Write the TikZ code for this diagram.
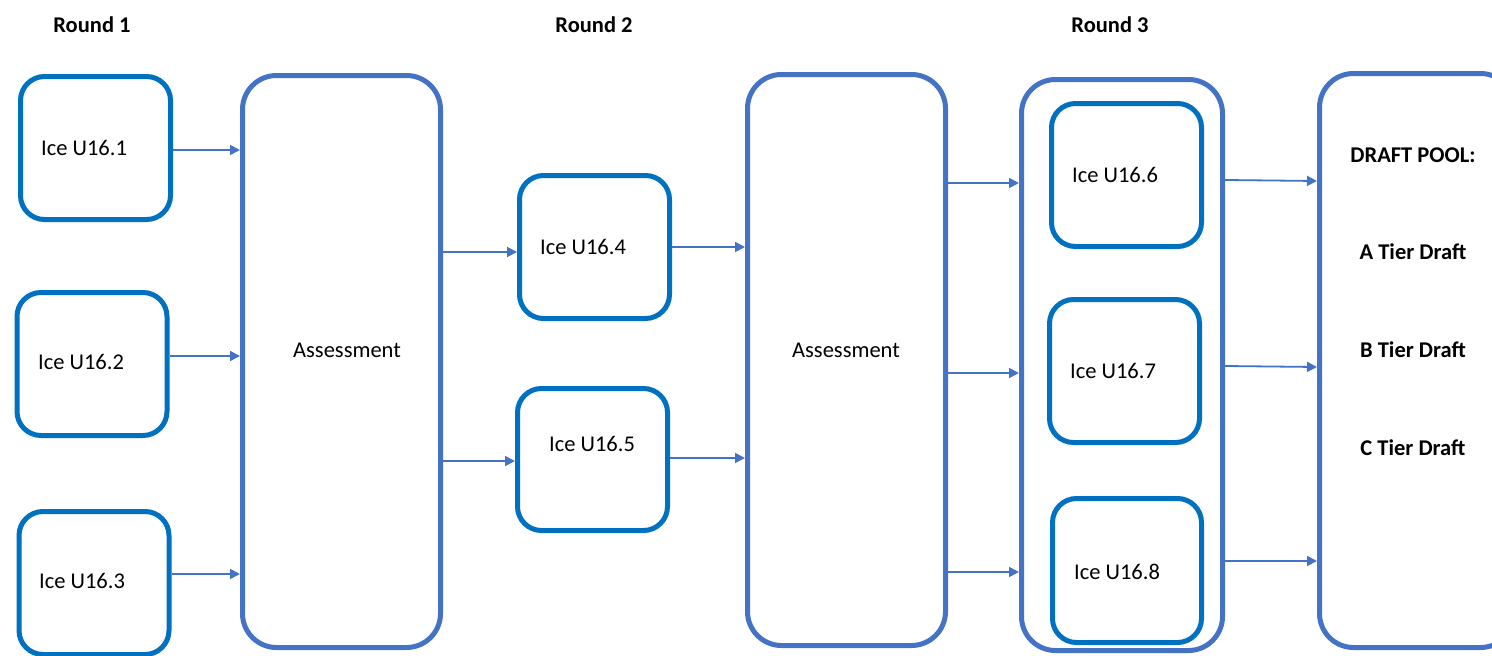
\documentclass[tikz,border=0pt]{standalone}
\usepackage{fontspec}
\setmainfont{Carlito}
\usetikzlibrary{arrows.meta}

\definecolor{iceblue}{HTML}{0070C0}
\definecolor{stepblue}{HTML}{4472C4}

\tikzset{
	icebox/.style={draw=iceblue, line width=5pt, rounded corners=24pt, minimum width=150pt, minimum height=143pt, inner sep=0pt},
	bigbox/.style={draw=stepblue, line width=5pt, rounded corners=34pt, inner sep=0pt},
	feed/.style={stepblue, line width=1.8pt, -{Triangle[length=10pt,width=10pt]}},
	lbl/.style={font=\fontsize{22.5}{27}\selectfont, inner sep=0pt},
	head/.style={font=\fontsize{22.5}{27}\selectfont\bfseries, inner sep=0pt}
}

\begin{document}
\begin{tikzpicture}[x=1pt, y=-1pt]
	\useasboundingbox (0,0) rectangle (1492,656);
	\clip (0,0) rectangle (1492,656);

	% round titles
	\node[head] (r1) at (92,25) {Round 1};
	\node[head] (r2) at (594,25) {Round 2};
	\node[head] (r3) at (1110,25) {Round 3};

	% round 1
	\node[icebox] (b1) at (95.5,148) {};
	\node[icebox] (b2) at (92,364) {};
	\node[icebox] (b3) at (94,583) {};
	\node[lbl] (t1) at (84,148) {Ice U16.1};
	\node[lbl] (t2) at (81,362) {Ice U16.2};
	\node[lbl] (t3) at (82,581) {Ice U16.3};

	\node[bigbox, minimum width=198pt, minimum height=572pt] (ass1) at (341.5,361.5) {};
	\node[lbl] (a1) at (347,350) {Assessment};

	% round 2
	\node[icebox] (b4) at (594.5,247) {};
	\node[icebox, minimum height=142pt] (b5) at (592.5,459.5) {};
	\node[lbl] (t4) at (583,247) {Ice U16.4};
	\node[lbl] (t5) at (592,444) {Ice U16.5};

	\node[bigbox, minimum width=198pt, minimum height=571pt] (ass2) at (846.5,360) {};
	\node[lbl] (a2) at (846,350) {Assessment};

	% round 3
	\node[bigbox, minimum width=201pt, minimum height=571pt] (grp) at (1122,365) {};
	\node[icebox] (b6) at (1126.5,175) {};
	\node[icebox] (b7) at (1124.5,371) {};
	\node[icebox, minimum width=149pt, minimum height=144pt] (b8) at (1127,570.5) {};
	\node[lbl] (t6) at (1115,175) {Ice U16.6};
	\node[lbl] (t7) at (1113,371) {Ice U16.7};
	\node[lbl] (t8) at (1117,572) {Ice U16.8};

	% draft pool
	\node[bigbox, minimum width=195pt, minimum height=574pt] (pool) at (1417,360.5) {};
	\node[head] (p0) at (1413,155) {DRAFT POOL:};
	\node[head] (pa) at (1413,252) {A Tier Draft};
	\node[head] (pb) at (1413,350) {B Tier Draft};
	\node[head] (pc) at (1413,448) {C Tier Draft};

	% connectors
	\draw[feed] (b1.east |- 0,150) -- (ass1.west |- 0,150);
	\draw[feed] (b2.east |- 0,356) -- (ass1.west |- 0,356);
	\draw[feed] (b3.east |- 0,574) -- (ass1.west |- 0,574);
	\draw[feed] (ass1.east |- 0,252) -- (b4.west |- 0,252);
	\draw[feed] (ass1.east |- 0,461) -- (b5.west |- 0,461);
	\draw[feed] (b4.east |- 0,247) -- (ass2.west |- 0,247);
	\draw[feed] (b5.east |- 0,458) -- (ass2.west |- 0,458);
	\draw[feed] (ass2.east |- 0,183) -- (grp.west |- 0,183);
	\draw[feed] (ass2.east |- 0,373) -- (grp.west |- 0,373);
	\draw[feed] (ass2.east |- 0,572) -- (grp.west |- 0,572);
	\draw[feed] (grp.east |- 0,180) -- (pool.west |- 0,181);
	\draw[feed] (grp.east |- 0,366) -- (pool.west |- 0,367);
	\draw[feed] (grp.east |- 0,561) -- (pool.west |- 0,561);
\end{tikzpicture}
\end{document}
